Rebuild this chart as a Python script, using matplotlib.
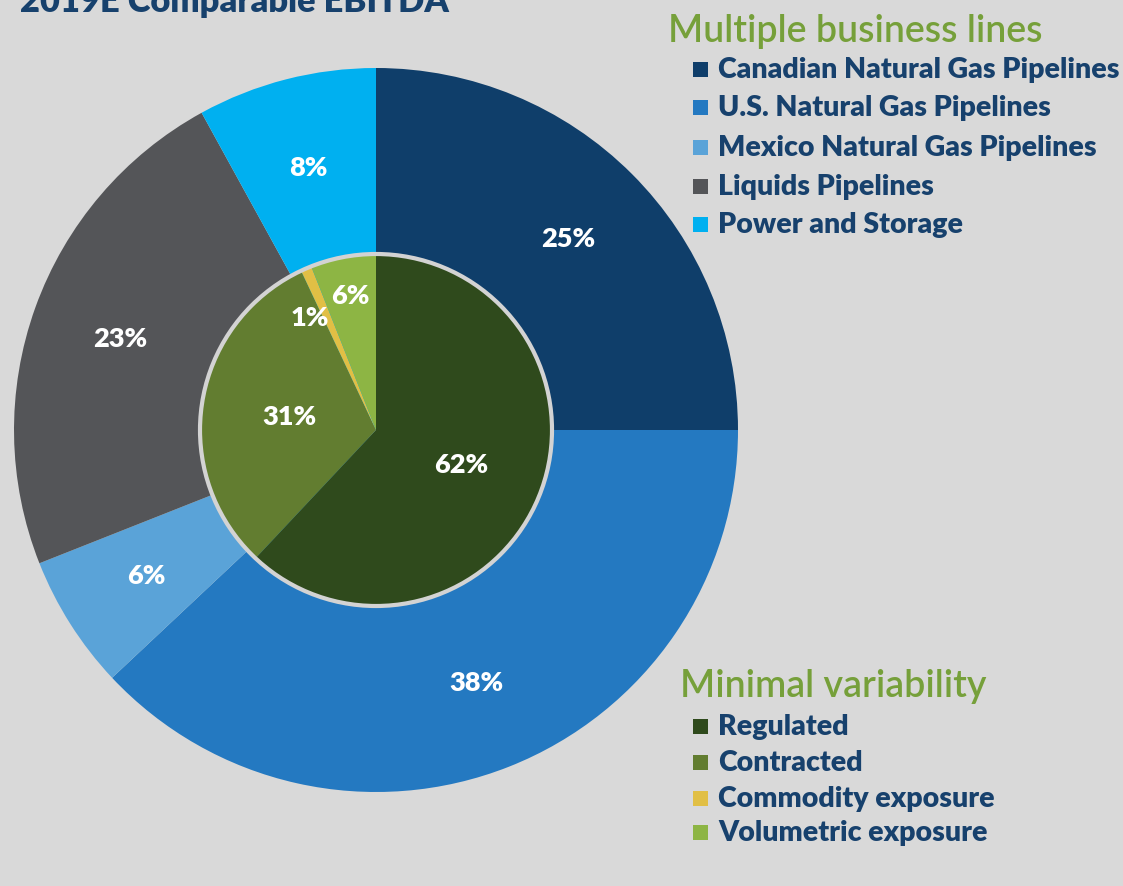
import numpy as np
import matplotlib.pyplot as plt
from matplotlib.patches import Circle, Rectangle

# outer ring: business lines
business = ['Canadian Natural Gas Pipelines', 'U.S. Natural Gas Pipelines',
            'Mexico Natural Gas Pipelines', 'Liquids Pipelines', 'Power and Storage']
business_pct = [25, 38, 6, 23, 8]
business_colors = ['#0f3e6a', '#2479c1', '#5aa3d8', '#545558', '#00b0f0']

# inner pie: variability
variability = ['Regulated', 'Contracted', 'Commodity exposure', 'Volumetric exposure']
variability_pct = [62, 31, 1, 6]
variability_colors = ['#2f4a1c', '#627d30', '#e1bf45', '#8db544']

title = '2019E Comparable EBITDA'

W, H = 1123, 887
bg = '#d9d9d9'
navy = '#17416d'
green = '#76a03a'
font = 'Lato'

fig = plt.figure(figsize=(W / 100, H / 100), dpi=100, facecolor=bg)
ax = fig.add_axes([0, 0, 1, 1])
ax.set_xlim(0, W)
ax.set_ylim(0, H)
ax.set_aspect('equal')
ax.axis('off')

cx, cy = 376, H - 431
r_out, r_in = 362, 176

pct_style = dict(color='white', fontsize=19.5, fontweight='heavy', family=font)

wedges, _, autotexts = ax.pie(business_pct, colors=business_colors, center=(cx, cy),
                              radius=r_out, startangle=90, counterclock=False,
                              autopct='%d%%', pctdistance=0.75,
                              wedgeprops=dict(linewidth=0), textprops=pct_style)

wedges2, _, autotexts2 = ax.pie(variability_pct, colors=variability_colors, center=(cx, cy),
                                radius=r_in, startangle=90, counterclock=False,
                                autopct='%d%%', pctdistance=0.52,
                                wedgeprops=dict(linewidth=0), textprops=pct_style)
# small slices: push labels outward
for w, t, d in zip(wedges2, autotexts2, [0.52, 0.5, 0.76, 0.78]):
    ang = np.deg2rad((w.theta1 + w.theta2) / 2)
    t.set_position((cx + d * r_in * np.cos(ang), cy + d * r_in * np.sin(ang)))
autotexts2[2].set_position((cx - 66, cy + 113))

ax.add_patch(Circle((cx, cy), r_in, fill=False, edgecolor='#d3d3d3', linewidth=3, zorder=5))

ax.set_xlim(0, W)
ax.set_ylim(0, H)

# title, partly cut off at the top as in the source slide
ax.text(20, H - 12, title, color=navy, fontsize=24.8, fontweight='heavy', family=font,
        ha='left', va='baseline')


def legend_block(x, y_head, head, labels, colors, ys):
    ax.text(x, H - y_head, head, color=green, fontsize=27, fontweight='semibold',
            family=font, ha='left', va='center')
    for lab, col, yy in zip(labels, colors, ys):
        ax.add_patch(Rectangle((693, H - yy - 7.5), 15, 15, facecolor=col, edgecolor='none'))
        ax.text(718, H - yy, lab, color=navy, fontsize=20.5, fontweight='heavy', family=font,
                ha='left', va='center')


legend_block(668, 31, 'Multiple business lines', business, business_colors,
             [70, 108, 148, 187, 225])
legend_block(680, 687, 'Minimal variability', variability, variability_colors,
             [727, 763, 799, 833])

fig.savefig('out.png', dpi=100, facecolor=bg)
